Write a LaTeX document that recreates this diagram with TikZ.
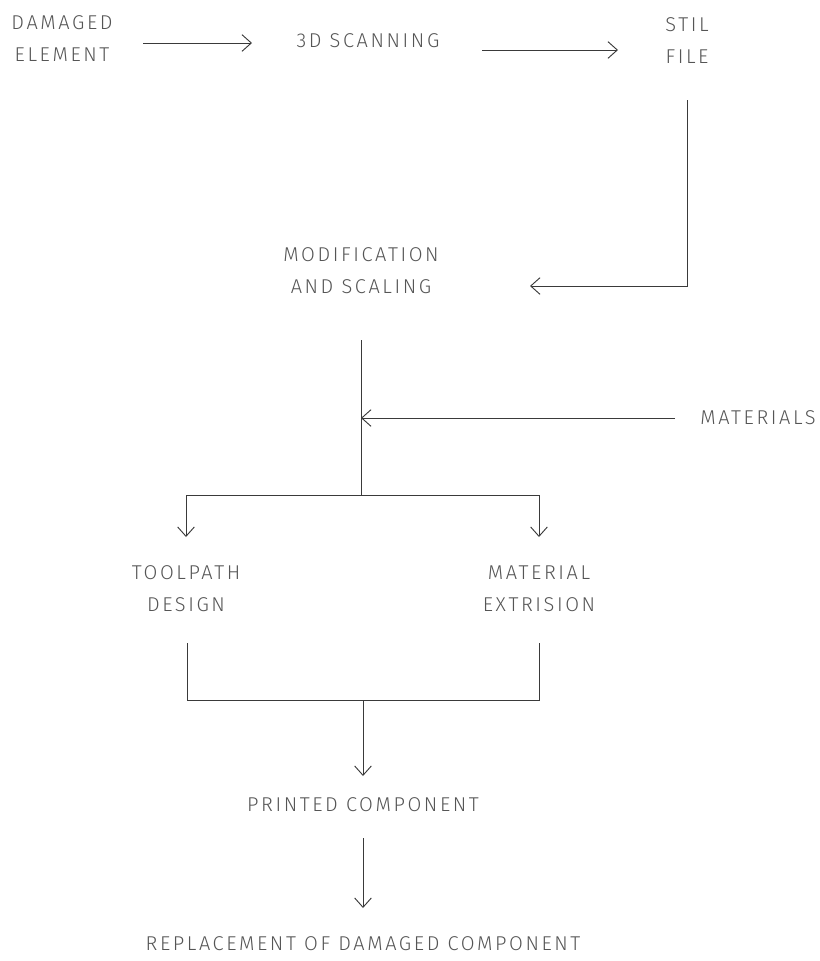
\documentclass[tikz,border=0pt]{standalone}
\usepackage{fontspec}
\setmainfont{Fira Sans}[UprightFont=* Light, LetterSpace=13]
\usepackage{tikz}
\usetikzlibrary{arrows.meta,calc}

\definecolor{txtgrey}{HTML}{555555}
\definecolor{lngrey}{HTML}{3A3A3A}

\begin{document}
\begin{tikzpicture}[x=0.75pt,y=-0.75pt]
       \tikzset{every node/.style={text=txtgrey,font=\fontsize{15}{24}\selectfont,align=center,inner sep=0pt},
                link/.style={draw=lngrey,line width=0.7pt},
                flow/.style={link,-{Straight Barb[length=7pt,width=12.5pt,line width=0.7pt]}}}
       \useasboundingbox (0,0) rectangle (820,961);

       \node (dam) at (62,39) {DAMAGED\\ELEMENT};
       \node (scan) at (368,41) {3D SCANNING};
       \node (stil) at (687,41) {STIL\\FILE};
       \node (mod) at (361,271) {MODIFICATION\\AND SCALING};
       \node (mat) at (758,418) {MATERIALS};
       \node (tool) at (186,589) {TOOLPATH\\DESIGN};
       \node (extr) at (539,589) {MATERIAL\\EXTRISION};
       \node (print) at (363,805) {PRINTED COMPONENT};
       \node (repl) at (363,944) {REPLACEMENT OF DAMAGED COMPONENT};

       \coordinate (split) at (361,495);
       \coordinate (join) at (363,700);

       % top row
       \path[flow] ($(dam)+(81,4)$) -- ($(scan)+(-116,2)$);
       \path[flow] ($(scan)+(114,9)$) -- ($(stil)+(-69,9)$);
       \path[flow] ($(stil)+(0,59)$) |- ($(mod)+(169,15)$);

       % modification to the two branches
       \path[link] ($(mod)+(0,69)$) -- (split);
       \path[flow] ($(mat)+(-83,0)$) -- (split |- mat);
       \path[flow] (split) -| ($(tool)+(0,-52)$);
       \path[flow] (split) -| ($(extr)+(0,-52)$);

       % branches joined again
       \path[link] ($(tool)+(1,54)$) |- (join) -| ($(extr)+(0,54)$);
       \path[flow] (join) -- ($(print)+(0,-29)$);
       \path[flow] ($(print)+(0,33)$) -- ($(repl)+(0,-36)$);
\end{tikzpicture}
\end{document}
